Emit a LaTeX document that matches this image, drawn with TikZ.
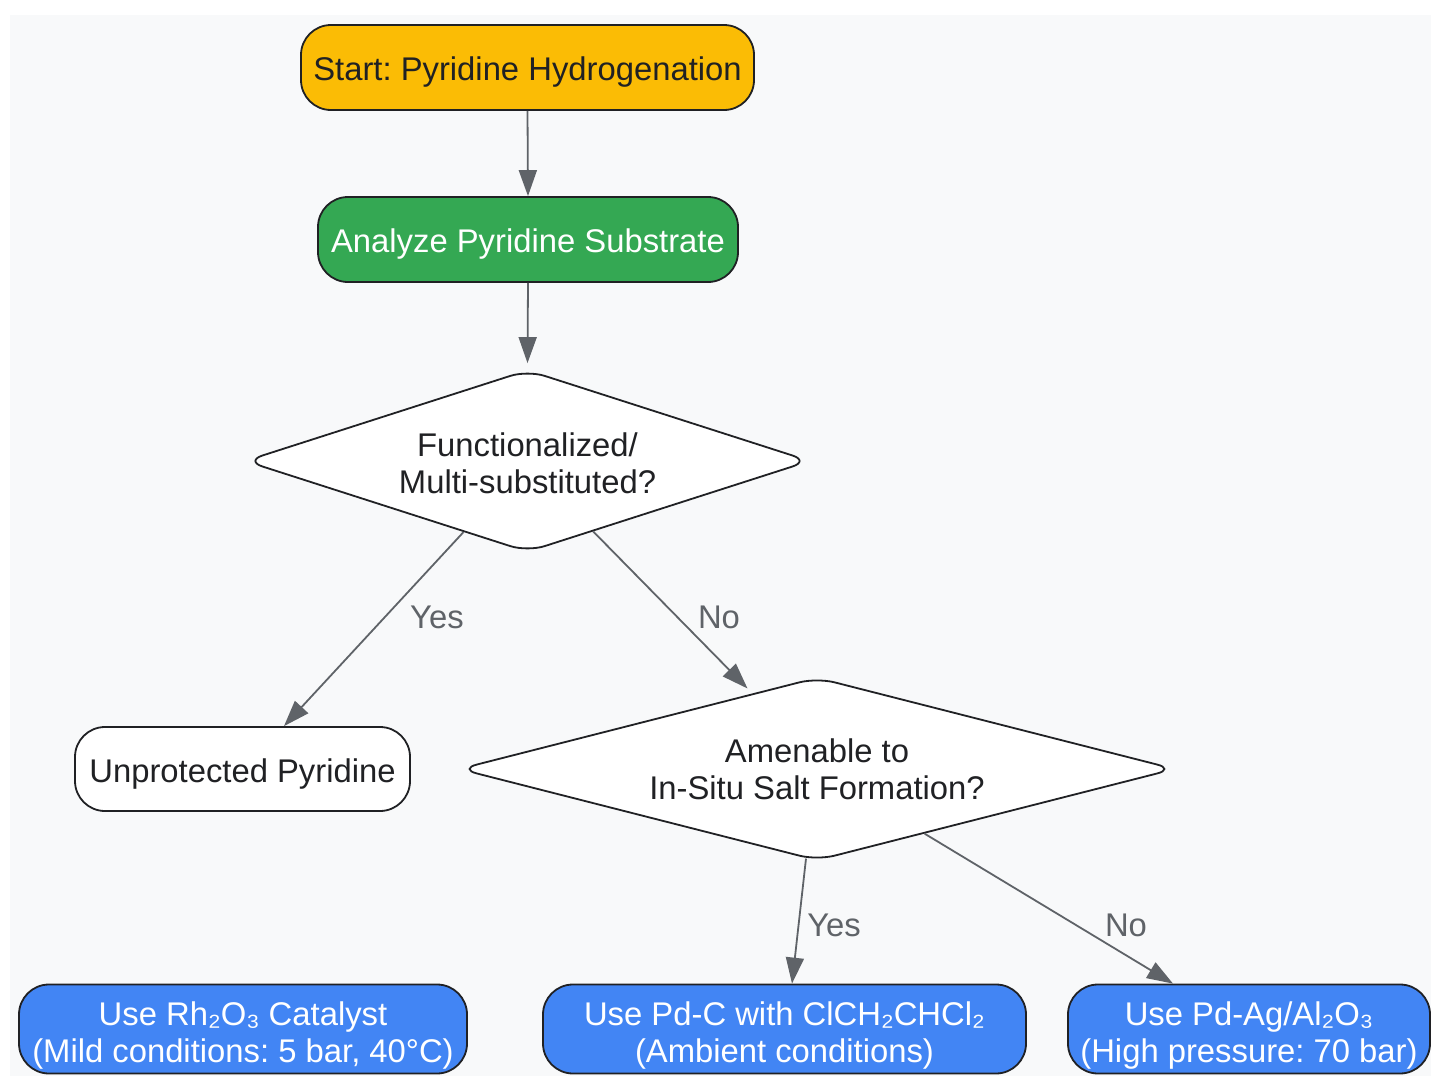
\documentclass[tikz,border=0pt]{standalone}
\usepackage{fontspec}
\setmainfont{Liberation Sans}
\usetikzlibrary{shapes.geometric,arrows.meta}
\definecolor{bgc}{HTML}{F8F9FA}
\definecolor{ylw}{HTML}{FBBC05}
\definecolor{grn}{HTML}{34A853}
\definecolor{blu}{HTML}{4285F4}
\definecolor{edgec}{HTML}{5F6368}
\definecolor{brd}{HTML}{202124}
\newcommand\tstrut[1]{\rule{0pt}{#1}}
\begin{document}
\frenchspacing
\begin{tikzpicture}[x=0.5pt,y=-0.5pt,
  every node/.style={font=\fontsize{16.4}{18.5}\selectfont},
  box/.style={draw=brd,line width=0.9pt,rounded corners=15pt,align=center,inner sep=2pt,text=brd},
  dec/.style={diamond,draw=brd,line width=0.9pt,rounded corners=9pt,fill=white,align=center,inner sep=0pt,text=brd},
  arr/.style={draw=edgec,line width=0.9pt,-{Triangle[length=13pt,width=9pt]}},
  lbl/.style={text=edgec,inner sep=1pt}]
\useasboundingbox (0,0) rectangle (1431,1076);
\fill[bgc] (10,15) rectangle (1431,1076);
\node[box,fill=ylw,minimum width=226.5pt,minimum height=42.5pt] (start) at (527.5,67.5) {\tstrut{16.6pt}Start: Pyridine Hydrogenation};
\node[box,fill=grn,text=white,minimum width=210pt,minimum height=42.5pt] (ana) at (528,239.5) {\tstrut{16.6pt}Analyze Pyridine Substrate};
\node[dec,aspect=3.1,minimum width=282.5pt,minimum height=91pt] (d1) at (527.5,461) {\tstrut{14pt}Functionalized/\\Multi-substituted?};
\node[box,fill=white,minimum width=167.5pt,minimum height=42pt] (unp) at (242.5,769) {\tstrut{16.6pt}Unprotected Pyridine};
\node[dec,aspect=3.91,minimum width=358pt,minimum height=91.5pt] (d2) at (817,769) {\tstrut{12.5pt}Amenable to\\In-Situ Salt Formation?};
\node[box,fill=blu,text=white,minimum width=224pt,minimum height=44.5pt] (rh) at (243,1029) {\tstrut{18pt}Use Rh₂O₃ Catalyst\\(Mild conditions: 5 bar, 40°C)};
\node[box,fill=blu,text=white,minimum width=241.5pt,minimum height=44.5pt] (pdc) at (784.5,1029) {\tstrut{18pt}Use Pd-C with ClCH₂CHCl₂\\(Ambient conditions)};
\node[box,fill=blu,text=white,minimum width=181pt,minimum height=44.5pt] (pdag) at (1249,1029) {\tstrut{18pt}Use Pd-Ag/Al₂O₃\\(High pressure: 70 bar)};
\node[lbl] (l1) at (437,617) {Yes};
\node[lbl] (l2) at (719,617) {No};
\node[lbl] (l3) at (834,925) {Yes};
\node[lbl] (l4) at (1126,925) {No};
\draw[arr] (start.south) -- (ana.north);
\draw[arr] (ana.south) -- ([yshift=3pt]d1.north);
\draw[arr] (d1.-132) -- ([xshift=20.75pt]unp.north);
\draw[arr] (d1.-47) -- ([shift={(0pt,3pt)}]d2.133);
\draw[arr] (d2.-97) -- ([xshift=3.75pt]pdc.north);
\draw[arr] (d2.-31) -- ([xshift=-38pt]pdag.north);
\end{tikzpicture}
\end{document}
